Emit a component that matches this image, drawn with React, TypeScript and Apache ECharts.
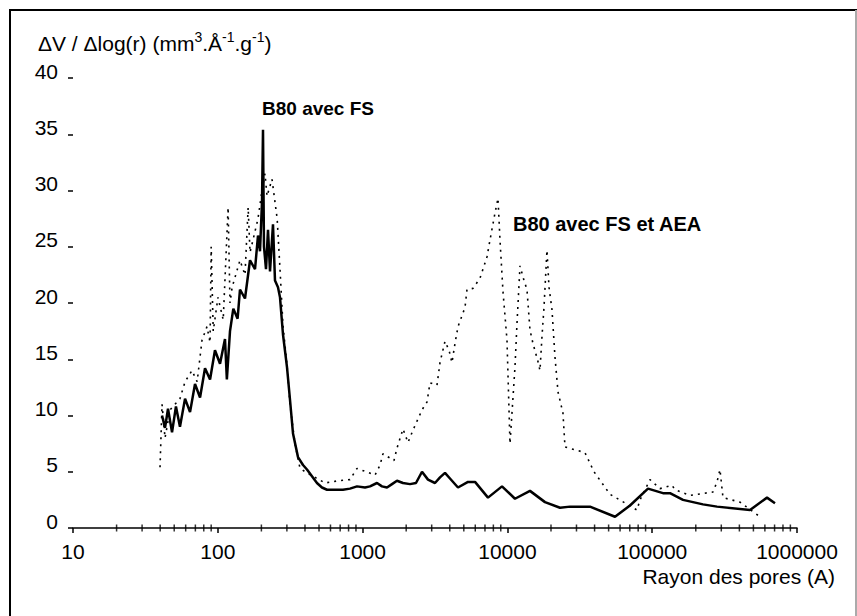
import React, { useEffect, useRef } from "react";
import * as echarts from "echarts";

const FONT = "'Liberation Sans', Arial, Helvetica, sans-serif";

// Pore radius (Å) and dV/dlog(r) for "B80 avec FS" (solid)
const fsRadius = [41.2, 43.2, 45.3, 48.3, 51.4, 54.8, 59.4, 64.3, 69.6, 75.4, 81.6, 88.4, 95.6, 103.6, 112.1, 115.5, 121.4, 128, 137, 142.3, 154.1, 166.9, 180.7, 189.5, 195.6, 202, 205.2, 208.4, 215.2, 222.2, 229.4, 240.5, 248.3, 260.4, 268.9, 282, 300.5, 315.2, 330.6, 358, 387.6, 413, 447, 484, 524, 568, 732, 818, 915, 1039, 1125, 1257, 1361, 1474, 1596, 1728, 1901, 2125, 2337, 2572, 2829, 3162, 3424, 3707, 4013, 4558, 5345, 5975, 7345, 9178, 11280, 14320, 18180, 23080, 27060, 37190, 55360, 70250, 93520, 118700, 132700, 163200, 224300, 280300, 473700, 620600, 704700];
const fsValues = [10.0, 8.9, 10.6, 8.5, 10.8, 9.0, 11.5, 10.3, 12.8, 11.6, 14.2, 13.2, 15.8, 14.6, 16.8, 13.2, 17.5, 19.5, 18.6, 21.2, 20.4, 23.8, 23.0, 26.0, 24.6, 29.0, 35.4, 25.0, 23.0, 26.5, 22.8, 27.0, 22.0, 21.4, 20.5, 17.2, 14.3, 11.4, 8.4, 6.3, 5.6, 5.2, 4.6, 4.0, 3.6, 3.4, 3.4, 3.5, 3.7, 3.6, 3.7, 4.0, 3.7, 3.6, 3.9, 4.2, 4.0, 3.9, 4.0, 5.0, 4.3, 4.0, 4.5, 4.9, 4.4, 3.6, 4.1, 4.1, 2.7, 3.7, 2.6, 3.3, 2.3, 1.8, 1.9, 1.9, 1.0, 2.0, 3.5, 3.1, 3.1, 2.5, 2.1, 1.9, 1.6, 2.7, 2.2];

// "B80 avec FS et AEA" (dotted)
const aeaRadius = [39.9, 41.2, 43.2, 46.8, 54.8, 59.4, 66.3, 72, 77.8, 84.2, 88.4, 90, 93, 100.3, 109, 117.8, 121.4, 125.6, 142.3, 154.1, 162, 166.9, 175, 189.5, 202, 211.8, 218.7, 236.8, 257, 268.9, 282, 300.5, 315.2, 341, 369.6, 413, 470, 550, 680, 818, 915, 1218, 1320, 1383, 1647, 1728, 1901, 2058, 2229, 2572, 2784, 2921, 3264, 3424, 3707, 3952, 4143, 4345, 4558, 5095, 5259, 5786, 6467, 7228, 7582, 8210, 8610, 8888, 9325, 9936, 10420, 11280, 11650, 12220, 13020, 13650, 14320, 15020, 16260, 16790, 17330, 17890, 18760, 19380, 20320, 21310, 22360, 24200, 24990, 34330, 39630, 51090, 78520, 82350, 96560, 113200, 137000, 143700, 182300, 262900, 280300, 293800, 308200, 403800, 555200];
const aeaValues = [5.4, 11.0, 8.0, 10.5, 11.5, 13.0, 14.0, 13.0, 16.7, 17.9, 16.5, 25.0, 17.5, 20.5, 18.5, 28.5, 20.0, 21.4, 23.8, 22.5, 28.5, 24.5, 25.6, 27.5, 30.0, 31.5, 29.5, 31.0, 27.5, 23.0, 18.0, 14.5, 11.0, 7.5, 5.3, 4.9, 4.5, 4.0, 4.2, 4.3, 5.3, 4.7, 5.6, 6.6, 6.0, 7.1, 8.8, 7.6, 8.7, 10.5, 11.2, 12.9, 12.7, 14.7, 16.6, 15.8, 14.7, 16.4, 17.9, 19.6, 21.2, 21.3, 22.2, 24.1, 25.6, 28.0, 29.3, 25.6, 21.0, 16.7, 7.5, 14.3, 18.2, 23.3, 22.0, 21.2, 17.6, 16.4, 14.8, 14.0, 17.0, 19.6, 24.7, 21.4, 19.4, 15.2, 12.1, 10.2, 7.2, 6.7, 5.0, 3.0, 1.6, 2.5, 4.3, 3.5, 3.8, 3.4, 2.9, 3.2, 4.1, 5.2, 2.7, 2.3, 1.0];

const xMin = 10;
const xMax = 1000000;
const yMin = 0;
const yMax = 40;
const yInterval = 5;
const minorDecades = [10, 100, 1000, 10000, 100000];
const minorMultipliers = [2, 3, 4, 5, 6, 7, 8, 9];

const seriesNames = ["B80 avec FS", "B80 avec FS et AEA"];
const titleText = "ΔV / Δlog(r) (mm{sup|3}.Å{sup|-1}.g{sup|-1})";
const xAxisName = "Rayon des pores (A)";

export default function App() {
  const ref = useRef<HTMLDivElement>(null);
  useEffect(() => {
    if (!ref.current) return;
    const chart = echarts.init(ref.current, undefined, { renderer: "svg" });
    const zip = (a: number[], b: number[]) => a.map((v, i) => [v, b[i]]);
    const minorTicks: number[][] = [];
    minorDecades.forEach((d) => minorMultipliers.forEach((k) => minorTicks.push([k * d, 0])));

    chart.setOption({
      animation: false,
      backgroundColor: "#ffffff",
      textStyle: { fontFamily: FONT },
      title: {
        text: titleText,
        left: 33,
        top: 25,
        textStyle: {
          fontFamily: FONT,
          fontSize: 21,
          fontWeight: "normal",
          color: "#000",
          rich: {
            sup: { fontFamily: FONT, fontSize: 14, color: "#000", padding: [0, 0, 12, 0] },
          },
        },
      },
      grid: { left: 73, right: 60, top: 78, bottom: 88 },
      xAxis: {
        type: "log",
        logBase: 10,
        min: xMin,
        max: xMax,
        axisLine: { lineStyle: { color: "#000", width: 1.5 } },
        axisTick: { length: 5, lineStyle: { color: "#000", width: 1.5 } },
        axisLabel: {
          formatter: (v: number) => String(Math.round(v)),
          margin: 13,
          fontSize: 21,
          color: "#000",
          fontFamily: FONT,
        },
        splitLine: { show: false },
      },
      yAxis: {
        type: "value",
        min: yMin,
        max: yMax,
        interval: yInterval,
        axisLine: { show: false },
        axisTick: { show: true, length: 5, lineStyle: { color: "#000", width: 1.5 } },
        axisLabel: {
          margin: 15,
          fontSize: 21,
          color: "#000",
          fontFamily: FONT,
          verticalAlign: "bottom",
          lineHeight: 14,
        },
        splitLine: { show: false },
      },
      series: [
        {
          name: seriesNames[0],
          type: "line",
          data: zip(fsRadius, fsValues),
          showSymbol: false,
          lineStyle: { color: "#000", width: 2.5 },
          silent: true,
        },
        {
          name: seriesNames[1],
          type: "line",
          data: zip(aeaRadius, aeaValues),
          showSymbol: false,
          lineStyle: { color: "#000", width: 1.6, type: [2, 5] },
          silent: true,
        },
        {
          name: "minor ticks",
          type: "scatter",
          data: minorTicks,
          symbol: "rect",
          symbolSize: [1.5, 7],
          itemStyle: { color: "#000" },
          clip: false,
          silent: true,
        },
      ],
      graphic: [
        { type: "line", shape: { x1: 9, y1: 10, x2: 857, y2: 10 }, style: { stroke: "#000", lineWidth: 2 } },
        { type: "line", shape: { x1: 10, y1: 9, x2: 10, y2: 616 }, style: { stroke: "#000", lineWidth: 2 } },
        { type: "line", shape: { x1: 856, y1: 10, x2: 856, y2: 616 }, style: { stroke: "#aaaaaa", lineWidth: 2 } },
        {
          type: "text",
          left: 262,
          top: 99,
          style: { text: seriesNames[0], font: `bold 19px ${FONT}`, fill: "#000" },
        },
        {
          type: "text",
          left: 513,
          top: 214,
          style: { text: seriesNames[1], font: `bold 20px ${FONT}`, fill: "#000" },
        },
        {
          type: "text",
          right: 22,
          top: 566,
          style: { text: xAxisName, font: `21px ${FONT}`, fill: "#000" },
        },
      ],
    });
    return () => chart.dispose();
  }, []);
  return (
    <div
      ref={ref}
      style={{ position: "fixed", left: 0, top: 0, width: 857, height: 616, background: "#fff" }}
    />
  );
}
